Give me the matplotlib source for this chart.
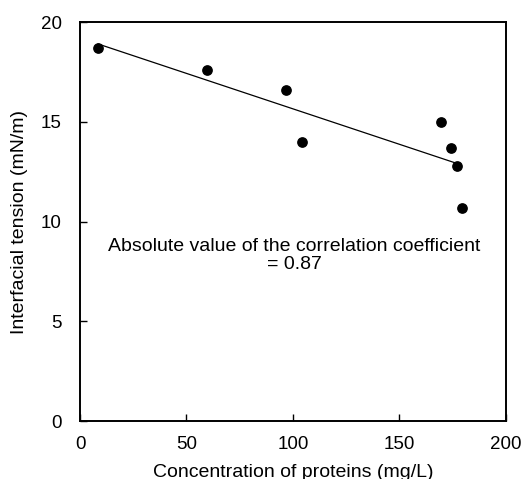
import matplotlib
matplotlib.use("Agg")
from matplotlib import pyplot as plt

plt.rcParams['font.family'] = ['Liberation Sans', 'DejaVu Sans']

# measured points
conc = [8.3, 59.5, 97.0, 104.1, 169.8, 174.5, 177.3, 179.3]
tension = [18.7, 17.6, 16.6, 14.0, 15.0, 13.7, 12.8, 10.7]

# trend line end points
trend_x = [8.5, 176.0]
trend_y = [18.9, 12.95]

x_ticks = [0, 50, 100, 150, 200]
y_ticks = [0, 5, 10, 15, 20]

fig = plt.figure(figsize=(5.23, 4.79), dpi=100)
ax = fig.add_axes([0.153, 0.121, 0.814, 0.833])

ax.plot(trend_x, trend_y, color='black', lw=0.9)
ax.scatter(conc, tension, s=45, color='black', zorder=3)

ax.set_xlim(0, 200)
ax.set_ylim(0, 20)
ax.set_xticks(x_ticks)
ax.set_yticks(y_ticks)
ax.tick_params(direction='in', length=5, width=1, labelsize=13.5)
ax.tick_params(axis='x', pad=11)
ax.tick_params(axis='y', pad=13)
for sp in ax.spines.values():
    sp.set_linewidth(1.4)

ax.set_xlabel('Concentration of proteins (mg/L)', fontsize=14, labelpad=8)
ax.set_ylabel('Interfacial tension (mN/m)', fontsize=14, labelpad=9)

ax.text(100.5, 8.3, 'Absolute value of the correlation coefficient\n= 0.87',
        ha='center', va='center', fontsize=14, linespacing=1.1)

fig.savefig('out.png', dpi=100)
